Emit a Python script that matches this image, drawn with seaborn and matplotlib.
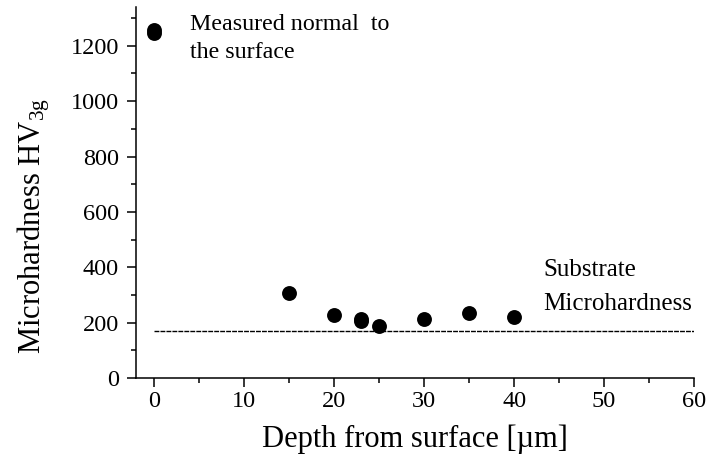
import matplotlib
matplotlib.use("Agg")
import matplotlib.pyplot as plt
import seaborn as sns
import pandas as pd

# values
depth = [0, 0, 15, 20, 23, 23, 25, 30, 35, 40]
hardness = [1245, 1256, 306, 228, 206, 213, 189, 212, 234, 222]
substrate_x = [0, 60]
substrate_y = [170, 170]

sns.set_theme(style="ticks")
plt.rcParams["font.family"] = ["Liberation Serif", "DejaVu Serif"]
plt.rcParams["mathtext.fontset"] = "custom"
plt.rcParams["mathtext.rm"] = "Liberation Serif"
plt.rcParams["mathtext.it"] = "Liberation Serif"
plt.rcParams["text.color"] = "black"
plt.rcParams["axes.labelcolor"] = "black"

df = pd.DataFrame({"depth": depth, "hv": hardness})

fig = plt.figure(figsize=(7.09, 4.68), dpi=100)
ax = fig.add_axes([0.192, 0.1923, 0.787, 0.7927])

sns.scatterplot(data=df, x="depth", y="hv", ax=ax, color="black", s=115,
                edgecolor="black", linewidth=0, legend=False)
sns.lineplot(x=substrate_x, y=substrate_y, ax=ax, color="black",
             linewidth=1.0)
ax.lines[-1].set_dashes((3.5, 0.8))

ax.set_xlim(-2, 60)
ax.set_ylim(0, 1340)
ax.set_xticks(range(0, 61, 10))
ax.set_xticks(range(0, 61, 5), minor=True)
ax.set_yticks(range(0, 1201, 200))
ax.set_yticks(range(0, 1301, 100), minor=True)
ax.tick_params(axis="both", which="major", labelsize=17.5, length=6.5,
               width=1.1, direction="out", colors="black")
ax.tick_params(axis="x", which="major", pad=3)
ax.tick_params(axis="y", which="major", pad=6)
ax.tick_params(axis="both", which="minor", length=3.5, width=1.1,
               direction="out", colors="black")

sns.despine(ax=ax)
for s in ["left", "bottom"]:
    ax.spines[s].set_linewidth(1.1)
    ax.spines[s].set_color("black")

ax.set_xlabel("Depth from surface [\u00b5m]", fontsize=22)
ax.set_ylabel("Microhardness HV$_{3g}$", fontsize=22)
ax.xaxis.set_label_coords(0.5, -0.125)
ax.yaxis.set_label_coords(-0.15, 0.41)

ax.text(4.0, 1258, "Measured normal  to", fontsize=17.3, va="baseline")
ax.text(4.0, 1157, "the surface", fontsize=17.3, va="baseline")
ax.text(43.2, 368, "Substrate", fontsize=18, va="baseline")
ax.text(43.2, 246, "Microhardness", fontsize=18, va="baseline")

fig.savefig("out.png", dpi=100)
